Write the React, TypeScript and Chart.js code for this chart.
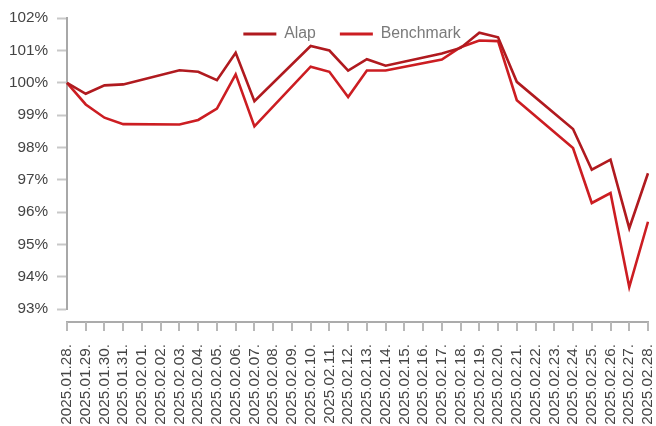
import React, { useEffect, useRef } from "react";
import { Chart, registerables } from "chart.js";

Chart.register(...registerables);

const labels: string[] = [
  "2025.01.28.", "2025.01.29.", "2025.01.30.", "2025.01.31.", "2025.02.01.", "2025.02.02.",
  "2025.02.03.", "2025.02.04.", "2025.02.05.", "2025.02.06.", "2025.02.07.", "2025.02.08.",
  "2025.02.09.", "2025.02.10.", "2025.02.11.", "2025.02.12.", "2025.02.13.", "2025.02.14.",
  "2025.02.15.", "2025.02.16.", "2025.02.17.", "2025.02.18.", "2025.02.19.", "2025.02.20.",
  "2025.02.21.", "2025.02.22.", "2025.02.23.", "2025.02.24.", "2025.02.25.", "2025.02.26.",
  "2025.02.27.", "2025.02.28.",
];

const alap: (number | null)[] = [
  100.0, 99.66, 99.92, 99.95, null, null,
  100.39, 100.34, 100.08, 100.93, 99.43, null,
  null, 101.14, 101.0, 100.38, 100.73, 100.53,
  null, null, 100.91, 101.08, 101.55, 101.41,
  100.03, null, null, 98.57, 97.31, 97.62,
  95.5, 97.2,
];

const benchmark: (number | null)[] = [
  100.0, 99.33, 98.92, 98.72, null, null,
  98.71, 98.85, 99.2, 100.26, 98.65, null,
  null, 100.5, 100.34, 99.56, 100.38, 100.38,
  null, null, 100.72, 101.1, 101.31, 101.29,
  99.46, null, null, 97.98, 96.28, 96.59,
  93.68, 95.7,
];

const yMin = 93;
const yMax = 102;

const FONT = "'Liberation Sans', Arial, sans-serif";
const FS = 15.3;
const LEGEND_FS = 15.8;
const LEGEND_SHIFT = 24;
const LEGEND_TOP = 2;

const legendOverlay = {
  id: "legendOverlay",
  beforeUpdate(chart: any) {
    const lg: any = chart.legend;
    if (lg && !lg.__patched) {
      const orig = lg.fit.bind(lg);
      lg.fit = function () {
        orig();
        this.__h = this.height;
        this.height = 0;
      };
      lg.__patched = true;
    }
  },
  afterLayout(chart: any) {
    const lg: any = chart.legend;
    if (lg && lg.__h !== undefined) {
      lg.top = LEGEND_TOP;
      lg.height = lg.__h;
      lg.bottom = lg.top + lg.__h;
      lg.left += LEGEND_SHIFT;
      lg.right += LEGEND_SHIFT;
    }
  },
};

const xAxisLine = {
  id: "xAxisLine",
  afterDraw(chart: any) {
    const ctx = chart.ctx;
    const xs = chart.scales.x;
    const y0 = chart.chartArea.bottom + 13;
    ctx.save();
    ctx.strokeStyle = "#ababab";
    ctx.lineWidth = 2;
    ctx.beginPath();
    ctx.moveTo(xs.left - 1, y0);
    ctx.lineTo(xs.right + 1, y0);
    ctx.stroke();
    ctx.strokeStyle = "#b8b8b8";
    for (let i = 0; i < xs.ticks.length; i++) {
      const px = Math.round(xs.getPixelForTick(i));
      ctx.beginPath();
      ctx.moveTo(px, y0);
      ctx.lineTo(px, y0 + 9);
      ctx.stroke();
    }
    ctx.restore();
  },
};

export default function App() {
  const ref = useRef<HTMLCanvasElement | null>(null);

  useEffect(() => {
    document.body.style.margin = "0";
    if (!ref.current) return;
    const chart = new Chart(ref.current, {
      type: "line",
      data: {
        labels,
        datasets: [
          {
            label: "Alap",
            data: alap,
            borderColor: "#b01a1f",
            backgroundColor: "#b01a1f",
            borderWidth: 2.6,
            pointRadius: 0,
            tension: 0,
            spanGaps: true,
          },
          {
            label: "Benchmark",
            data: benchmark,
            borderColor: "#cc1d22",
            backgroundColor: "#cc1d22",
            borderWidth: 2.6,
            pointRadius: 0,
            tension: 0,
            spanGaps: true,
          },
        ],
      },
      options: {
        animation: false,
        responsive: false,
        maintainAspectRatio: false,
        layout: { padding: { top: 18, left: 0, right: 0, bottom: 0 } },
        plugins: {
          tooltip: { enabled: false },
          legend: {
            display: true,
            position: "top",
            labels: {
              usePointStyle: true,
              pointStyle: "line",
              pointStyleWidth: 33,
              boxHeight: 15,
              padding: 24,
              color: "#7a7a7a",
              font: { family: FONT, size: LEGEND_FS },
              generateLabels: (c: any) =>
                (Chart as any).defaults.plugins.legend.labels
                  .generateLabels(c)
                  .map((l: any) => ({ ...l, lineWidth: 3 })),
            },
          },
        },
        scales: {
          x: {
            type: "category",
            offset: false,
            grid: { display: false },
            border: { display: false },
            afterFit: (s: any) => {
              s.height = 117;
              s.paddingLeft = 0;
              s.paddingRight = 8;
            },
            ticks: {
              autoSkip: false,
              minRotation: 90,
              maxRotation: 90,
              padding: 27,
              color: "#444",
              font: { family: FONT, size: FS },
            },
          },
          y: {
            min: yMin,
            max: yMax,
            afterFit: (s: any) => {
              s.width = 67;
            },
            grid: {
              drawOnChartArea: false,
              drawTicks: true,
              tickLength: 10,
              tickColor: "#c8c8c8",
              tickWidth: 2,
            },
            border: { display: true, color: "#a8a8a8", width: 2 },
            ticks: {
              stepSize: 1,
              padding: 9,
              color: "#444",
              font: { family: FONT, size: FS },
              callback: (v: any) => `${v}%`,
            },
          },
        },
      },
      plugins: [legendOverlay, xAxisLine],
    } as any);
    return () => chart.destroy();
  }, []);

  return (
    <div style={{ width: 656, height: 426 }}>
      <canvas ref={ref} width={656} height={426} style={{ width: 656, height: 426, display: "block" }} />
    </div>
  );
}
